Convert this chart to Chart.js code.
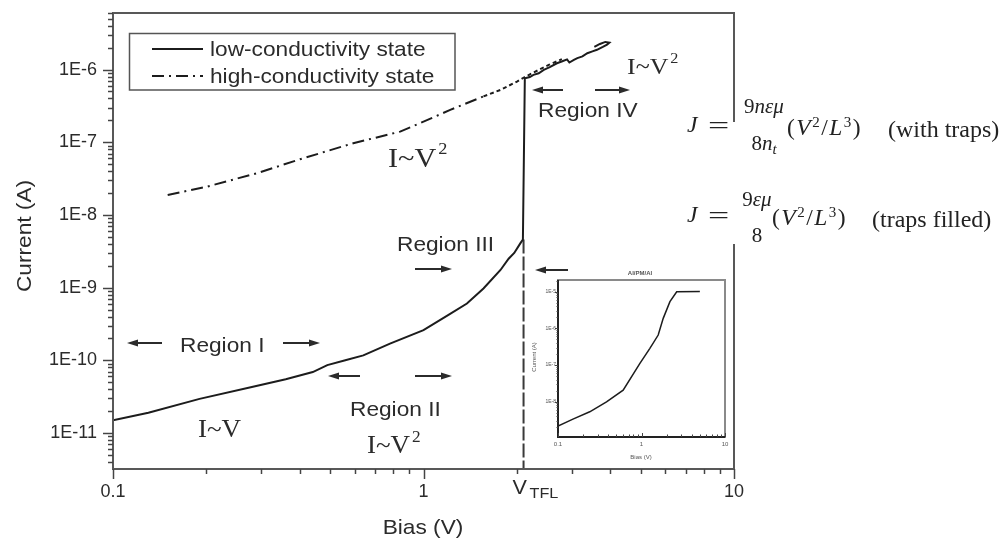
<!DOCTYPE html>
<html>
<head>
<meta charset="utf-8">
<title>I-V characteristics</title>
<script src="https://cdn.jsdelivr.net/npm/chart.js@4.4.1/dist/chart.umd.min.js"></script>
<style>
  html, body { margin: 0; padding: 0; background: #fff; }
  #wrap { position: relative; width: 1003px; height: 540px; overflow: hidden; background: #fff; }
  #main { position: absolute; left: 0; top: 0; }
  #inset { position: absolute; left: 530px; top: 265px; }
  .cover { position: absolute; left: 683px; top: 122px; width: 320px; height: 122px; background: #fff; }
  .eq { position: absolute; font-family: 'Liberation Serif', 'Times New Roman', serif; font-size: 23.5px;
        line-height: 1; color: #222; white-space: nowrap; }
  .eq i { font-style: italic; }
  .eq sup { font-size: 15px; position: relative; top: -1px; vertical-align: top; }
  .eq sub { font-size: 15px; position: relative; top: 4px; vertical-align: baseline; }
  .frac { font-size: 21px; text-align: center; }
  .pow { letter-spacing: 1.5px; }
  .note { font-size: 24px; }
  .eqs { display: inline-block; transform: scaleX(1.6); transform-origin: left center; }
</style>
</head>
<body>
<div id="wrap">
  <canvas id="main" width="1003" height="540"></canvas>
  <canvas id="inset" width="200" height="200"></canvas>

  <!-- SCLC relations -->
  <div class="cover"></div>
  <div class="eq" style="left:687px; top:113px"><i>J</i></div>
  <div class="eq" style="left:708px; top:114px"><span class="eqs">=</span></div>
  <div class="eq frac" style="left:739px; top:96px; width:50px">9<i>nεμ</i></div>
  <div class="eq frac" style="left:739px; top:133px; width:50px">8<i>n</i><sub><i>t</i></sub></div>
  <div class="eq pow" style="left:787px; top:116px">(<i>V</i><sup>2</sup>/<i>L</i><sup>3</sup>)</div>
  <div class="eq note" style="left:888px; top:117px">(with traps)</div>

  <div class="eq" style="left:687px; top:203px"><i>J</i></div>
  <div class="eq" style="left:708px; top:204px"><span class="eqs">=</span></div>
  <div class="eq frac" style="left:739px; top:189px; width:36px">9<i>εμ</i></div>
  <div class="eq frac" style="left:739px; top:225px; width:36px">8</div>
  <div class="eq pow" style="left:772px; top:206px">(<i>V</i><sup>2</sup>/<i>L</i><sup>3</sup>)</div>
  <div class="eq note" style="left:872px; top:207px">(traps filled)</div>
</div>

<script>
/* ---- DATA --------------------------------------------------- */
// low-conductivity sweep (solid): ohmic, SCLC, jump at V_TFL, noisy upper branch
const LOW_V = [0.1, 0.13, 0.19, 0.28, 0.36, 0.44, 0.49, 0.56, 0.64, 0.78, 1.0, 1.2, 1.38, 1.56,
  1.77, 1.88, 1.96, 2.05, 2.09, 2.12, 2.2, 2.26, 2.35, 2.44, 2.55, 2.69, 2.8, 2.9, 2.95, 3.05,
  3.13, 3.25, 3.37, 3.5, 3.62, 3.78, 3.9, 3.97, 3.85, 3.7, 3.55];
const LOW_I = [1.5e-11, 1.9e-11, 2.95e-11, 4.3e-11, 5.5e-11, 6.9e-11, 8.6e-11, 1.0e-10, 1.17e-10,
  1.7e-10, 2.6e-10, 4.2e-10, 6.05e-10, 9.75e-10, 1.75e-9, 2.5e-9, 3.0e-9, 4.06e-9, 4.6e-9,
  7.6e-7, 7.9e-7, 8.45e-7, 8.9e-7, 9.9e-7, 1.08e-6, 1.22e-6, 1.3e-6, 1.38e-6, 1.25e-6, 1.36e-6,
  1.44e-6, 1.52e-6, 1.68e-6, 1.78e-6, 1.87e-6, 2.05e-6, 2.2e-6, 2.35e-6, 2.4e-6, 2.25e-6, 2.05e-6];

// high-conductivity sweep (dash-dot)
const HIGH_V = [0.15, 0.2, 0.29, 0.4, 0.594, 0.841, 1.0, 1.219, 1.56, 1.77, 2.0, 2.12, 2.26, 2.53, 2.79];
const HIGH_I = [1.88e-8, 2.44e-8, 3.74e-8, 5.83e-8, 9.7e-8, 1.4e-7, 1.92e-7, 2.79e-7, 4.27e-7,
  5.25e-7, 6.84e-7, 7.9e-7, 9.1e-7, 1.16e-6, 1.39e-6];

// trap-filled limit voltage, marker runs from the curve down to the axis
const VTFL = 2.1;
const VTFL_I = [4.6e-9, 3.2e-12];

const X_TICKS = [0.1, 1, 10];
const X_LABELS = ['0.1', '1', '10'];
const Y_TICKS = [1e-11, 1e-10, 1e-9, 1e-8, 1e-7, 1e-6];
const Y_LABELS = ['1E-11', '1E-10', '1E-9', '1E-8', '1E-7', '1E-6'];

// inset: Al/PM/Al sweep up to compliance
const INSET_V = [0.1, 0.151, 0.24, 0.381, 0.603, 0.957, 1.26, 1.585, 1.82, 2.19, 2.64, 5.0];
const INSET_I = [2.18e-9, 3.38e-9, 5.34e-9, 1.0e-8, 2.08e-8, 1.11e-7, 2.85e-7, 6.56e-7,
  1.87e-6, 5.31e-6, 9.9e-6, 1.0e-5];
const INSET_X_TICKS = [0.1, 1, 10];
const INSET_X_LABELS = ['0.1', '1', '10'];
const INSET_Y_TICKS = [1e-8, 1e-7, 1e-6, 1e-5];
const INSET_Y_LABELS = ['1E-8', '1E-7', '1E-6', '1E-5'];

/* ---- HELPERS ------------------------------------------------ */
const SANS = "'Liberation Sans', Arial, sans-serif";
const SERIF = "'Liberation Serif', 'Times New Roman', serif";
const INK = '#2b2b2b';
const SX = 1.08; // lettering in this figure runs a little wide

const pts = (xs, ys) => xs.map((x, i) => ({ x, y: ys[i] }));

function text(ctx, s, x, y, font, align = 'left') {
  ctx.save();
  ctx.translate(x, y);
  ctx.scale(SX, 1);
  ctx.font = font;
  ctx.textAlign = align;
  ctx.textBaseline = 'alphabetic';
  ctx.fillText(s, 0, 0);
  ctx.restore();
}

function textWidth(ctx, s, font) {
  ctx.save();
  ctx.font = font;
  const w = ctx.measureText(s).width * SX;
  ctx.restore();
  return w;
}

// "I~V" with an optional exponent
function power(ctx, x, y, size, sup) {
  const f = size + 'px ' + SERIF;
  text(ctx, 'I~V', x, y, f);
  if (sup) text(ctx, sup, x + textWidth(ctx, 'I~V', f) + 2, y - size * 0.45, Math.round(size * 0.62) + 'px ' + SERIF);
}

function arrow(ctx, x1, x2, y) {
  const d = Math.sign(x2 - x1);
  ctx.beginPath();
  ctx.moveTo(x1, y);
  ctx.lineTo(x2 - d * 8, y);
  ctx.stroke();
  ctx.beginPath();
  ctx.moveTo(x2, y);
  ctx.lineTo(x2 - d * 11, y - 3.5);
  ctx.lineTo(x2 - d * 11, y + 3.5);
  ctx.closePath();
  ctx.fill();
}

const isDecade = v => Math.abs(Math.log10(v) - Math.round(Math.log10(v))) < 1e-6;

function logMarks(min, max) {
  const out = [];
  for (let e = Math.floor(Math.log10(min)); e <= Math.ceil(Math.log10(max)); e++) {
    for (let m = 1; m <= 9; m++) {
      const v = m * Math.pow(10, e);
      if (v >= min * 0.999 && v <= max * 1.001) out.push(v);
    }
  }
  return out;
}

// pin the axis box: no extra room for half-labels at the ends
const fitY = w => s => { s.width = w; s.paddingTop = 0; s.paddingBottom = 0; };
const fitX = h => s => { s.height = h; s.paddingLeft = 0; s.paddingRight = 0; };

/* ---- MAIN DECORATION ---------------------------------------- */
const mainDecor = {
  id: 'mainDecor',
  afterDraw(chart) {
    const { ctx, chartArea: a, scales: { x, y } } = chart;
    ctx.save();

    // frame
    ctx.strokeStyle = '#585858';
    ctx.lineWidth = 2;
    ctx.strokeRect(a.left, a.top, a.right - a.left, a.bottom - a.top);

    // outward tick marks
    ctx.lineWidth = 1.5;
    ctx.strokeStyle = '#444';
    logMarks(y.min, y.max).forEach(v => {
      const py = Math.round(y.getPixelForValue(v)) + 0.5;
      const len = isDecade(v) ? 10 : 5;
      ctx.beginPath(); ctx.moveTo(a.left - len, py); ctx.lineTo(a.left, py); ctx.stroke();
    });
    logMarks(x.min, x.max).forEach(v => {
      const px = Math.round(x.getPixelForValue(v)) + 0.5;
      const len = isDecade(v) ? 10 : 5;
      ctx.beginPath(); ctx.moveTo(px, a.bottom); ctx.lineTo(px, a.bottom + len); ctx.stroke();
    });

    // axis titles
    ctx.fillStyle = INK;
    text(ctx, 'Bias (V)', 423, 534, '21px ' + SANS, 'center');
    ctx.save();
    ctx.translate(31, 236);
    ctx.rotate(-Math.PI / 2);
    text(ctx, 'Current (A)', 0, 0, '21px ' + SANS, 'center');
    ctx.restore();

    // V_TFL label under its marker
    const vx = x.getPixelForValue(VTFL);
    text(ctx, 'V', vx - 11, 494, '20px ' + SANS);
    text(ctx, 'TFL', vx + 6, 498, '15px ' + SANS);

    // legend
    ctx.strokeStyle = '#555';
    ctx.lineWidth = 1.5;
    ctx.strokeRect(129.5, 33.5, 325.5, 56.5);
    chart.data.datasets.slice(0, 2).forEach((ds, i) => {
      const ly = 49 + i * 27;
      ctx.strokeStyle = ds.borderColor;
      ctx.lineWidth = ds.borderWidth;
      ctx.setLineDash(ds.borderDash || []);
      ctx.beginPath(); ctx.moveTo(152, ly); ctx.lineTo(203, ly); ctx.stroke();
      ctx.setLineDash([]);
      text(ctx, ds.label, 210, ly + 7, '21px ' + SANS);
    });

    // region labels and arrows
    ctx.fillStyle = INK;
    ctx.strokeStyle = INK;
    ctx.lineWidth = 2;
    const f = '21px ' + SANS;
    text(ctx, 'Region I', 180, 352, f);
    text(ctx, 'Region II', 350, 416, f);
    text(ctx, 'Region III', 397, 251, f);
    text(ctx, 'Region IV', 538, 117, f);
    arrow(ctx, 162, 127, 343);
    arrow(ctx, 283, 320, 343);
    arrow(ctx, 360, 328, 376);
    arrow(ctx, 415, 452, 376);
    arrow(ctx, 415, 452, 269);
    arrow(ctx, 568, 535, 270);
    arrow(ctx, 563, 532, 90);
    arrow(ctx, 595, 630, 90);

    // power-law slopes
    power(ctx, 388, 167, 28, '2');
    power(ctx, 198, 437, 25);
    power(ctx, 367, 453, 25, '2');
    power(ctx, 627, 74, 24, '2');

    ctx.restore();
  }
};

/* ---- MAIN CHART --------------------------------------------- */
new Chart(document.getElementById('main'), {
  type: 'line',
  data: {
    datasets: [
      {
        label: 'low-conductivity state',
        data: pts(LOW_V, LOW_I),
        borderColor: '#1c1c1c', borderWidth: 2, pointRadius: 0, tension: 0
      },
      {
        label: 'high-conductivity state',
        data: pts(HIGH_V, HIGH_I),
        borderColor: '#1c1c1c', borderWidth: 2, borderDash: [12, 5, 2, 5], pointRadius: 0, tension: 0,
        segment: { borderDash: c => (c.p0.parsed.x >= 1.4 ? [4, 3] : undefined) }
      },
      {
        label: 'VTFL',
        data: VTFL_I.map(v => ({ x: VTFL, y: v })),
        borderColor: '#3a3a3a', borderWidth: 2, borderDash: [14, 3], pointRadius: 0
      }
    ]
  },
  options: {
    responsive: false,
    animation: false,
    devicePixelRatio: 1,
    layout: { padding: { top: 13, right: 269, left: 0, bottom: 0 } },
    plugins: { legend: { display: false }, tooltip: { enabled: false } },
    scales: {
      x: {
        type: 'logarithmic', min: 0.1, max: 10,
        grid: { display: false, drawTicks: false }, border: { display: false },
        afterBuildTicks: s => { s.ticks = X_TICKS.map(v => ({ value: v })); },
        afterFit: fitX(71),
        ticks: {
          autoSkip: false, maxRotation: 0, padding: 12, color: INK,
          font: { family: SANS, size: 18 },
          callback: v => X_LABELS[X_TICKS.indexOf(v)]
        }
      },
      y: {
        type: 'logarithmic', min: 3.2e-12, max: 6e-6,
        grid: { display: false, drawTicks: false }, border: { display: false },
        afterBuildTicks: s => { s.ticks = Y_TICKS.map(v => ({ value: v })); },
        afterFit: fitY(113),
        ticks: {
          autoSkip: false, padding: 16, color: INK,
          font: { family: SANS, size: 18 },
          callback: v => Y_LABELS[Y_TICKS.indexOf(v)]
        }
      }
    }
  },
  plugins: [mainDecor]
});

/* ---- INSET -------------------------------------------------- */
const insetDecor = {
  id: 'insetDecor',
  afterDraw(chart) {
    const { ctx, chartArea: a, scales: { x, y } } = chart;
    ctx.save();
    ctx.strokeStyle = '#8a8a8a';
    ctx.lineWidth = 2;
    ctx.strokeRect(a.left, a.top, a.right - a.left, a.bottom - a.top);
    ctx.strokeStyle = '#222';
    ctx.beginPath();
    ctx.moveTo(a.left, a.top); ctx.lineTo(a.left, a.bottom); ctx.lineTo(a.right, a.bottom);
    ctx.stroke();

    ctx.lineWidth = 1;
    ctx.strokeStyle = '#444';
    logMarks(x.min, x.max).forEach(v => {
      const px = Math.round(x.getPixelForValue(v)) + 0.5;
      const len = isDecade(v) ? 4 : 2.5;
      ctx.beginPath(); ctx.moveTo(px, a.bottom); ctx.lineTo(px, a.bottom - len); ctx.stroke();
    });
    logMarks(y.min, y.max).forEach(v => {
      const py = Math.round(y.getPixelForValue(v)) + 0.5;
      const len = isDecade(v) ? 3 : 1.5;
      ctx.beginPath(); ctx.moveTo(a.left - len, py); ctx.lineTo(a.left, py); ctx.stroke();
    });

    ctx.fillStyle = '#555';
    ctx.font = 'bold 6px ' + SANS;
    ctx.textAlign = 'center';
    ctx.fillText('Al/PM/Al', 110, 10);
    ctx.font = '6px ' + SANS;
    ctx.fillText('Bias (V)', 111, 194);
    ctx.translate(6, 92);
    ctx.rotate(-Math.PI / 2);
    ctx.fillText('Current (A)', 0, 0);
    ctx.restore();
  }
};

new Chart(document.getElementById('inset'), {
  type: 'line',
  data: {
    datasets: [{
      data: pts(INSET_V, INSET_I),
      borderColor: '#1c1c1c', borderWidth: 1.5, pointRadius: 0, tension: 0
    }]
  },
  options: {
    responsive: false,
    animation: false,
    devicePixelRatio: 1,
    layout: { padding: { top: 15, right: 5, left: 0, bottom: 0 } },
    plugins: { legend: { display: false }, tooltip: { enabled: false } },
    scales: {
      x: {
        type: 'logarithmic', min: 0.1, max: 10,
        grid: { display: false, drawTicks: false }, border: { display: false },
        afterBuildTicks: s => { s.ticks = INSET_X_TICKS.map(v => ({ value: v })); },
        afterFit: fitX(28),
        ticks: {
          autoSkip: false, maxRotation: 0, padding: 4, color: '#555',
          font: { family: SANS, size: 6 },
          callback: v => INSET_X_LABELS[INSET_X_TICKS.indexOf(v)]
        }
      },
      y: {
        type: 'logarithmic', min: 1.1e-9, max: 2.07e-5,
        grid: { display: false, drawTicks: false }, border: { display: false },
        afterBuildTicks: s => { s.ticks = INSET_Y_TICKS.map(v => ({ value: v })); },
        afterFit: fitY(28),
        ticks: {
          autoSkip: false, padding: 2, color: '#555',
          font: { family: SANS, size: 5 },
          callback: v => INSET_Y_LABELS[INSET_Y_TICKS.indexOf(v)]
        }
      }
    }
  },
  plugins: [insetDecor]
});
</script>
</body>
</html>
